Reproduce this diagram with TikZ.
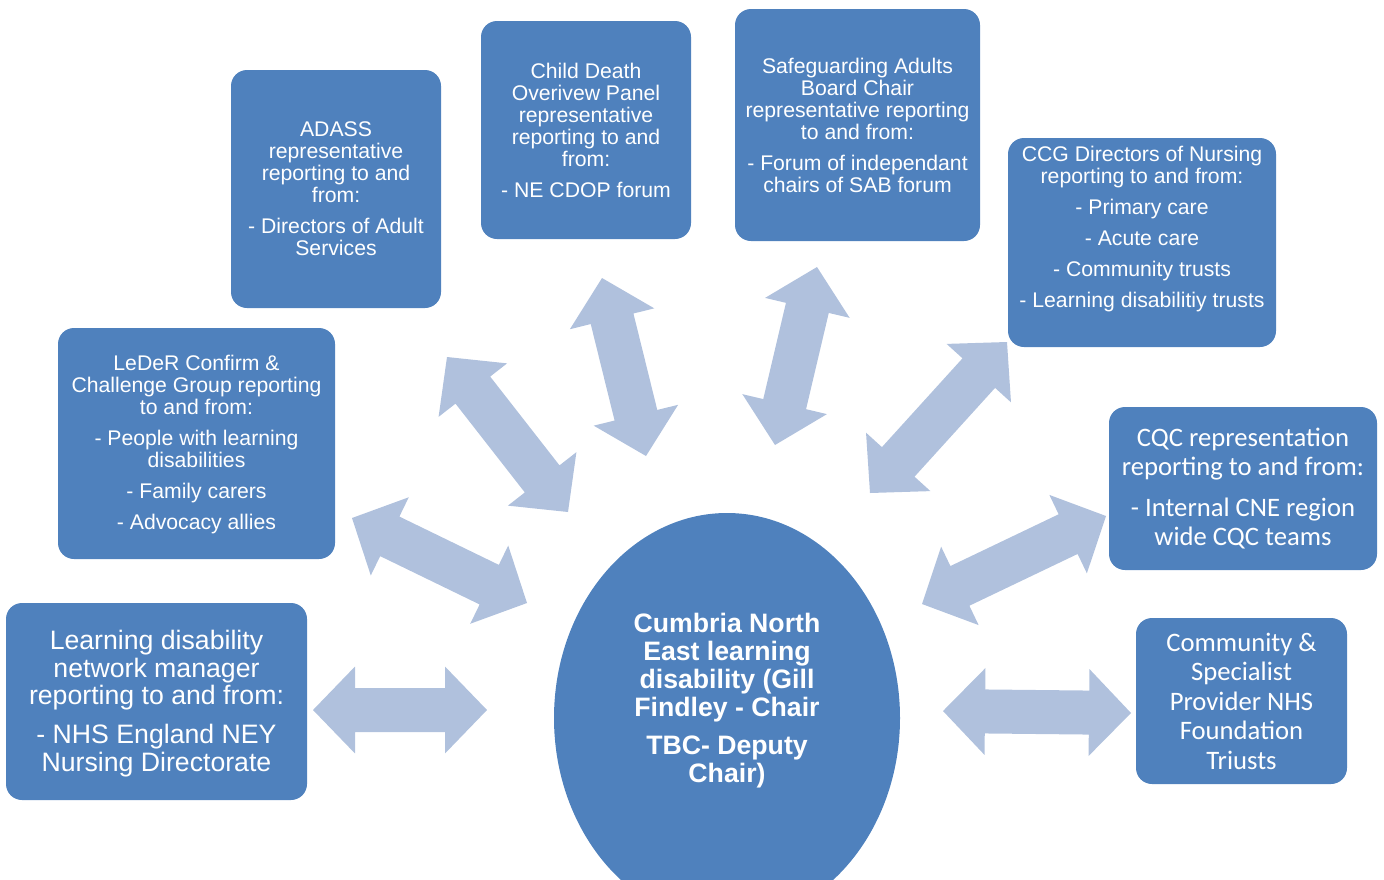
\documentclass[tikz,border=0pt]{standalone}
\usepackage{fontspec}
\setmainfont{Liberation Sans}
\newfontfamily\calibrifont{Carlito}
\usetikzlibrary{calc,shapes.geometric}
\definecolor{boxblue}{RGB}{79,129,189}
\definecolor{arrowblue}{RGB}{176,193,221}

\newcommand\blockarrow[2]{%
  \coordinate (ha) at ($(#1)!31.5pt!(#2)$);
  \coordinate (hb) at ($(#2)!31.5pt!(#1)$);
  \fill[arrowfill] (#1) -- ($(ha)!32.6pt!90:(#2)$) -- ($(ha)!16.5pt!90:(#2)$)
    -- ($(hb)!16.5pt!-90:(#1)$) -- ($(hb)!32.6pt!-90:(#1)$) -- (#2)
    -- ($(hb)!32.6pt!90:(#1)$) -- ($(hb)!16.5pt!90:(#1)$)
    -- ($(ha)!16.5pt!-90:(#2)$) -- ($(ha)!32.6pt!-90:(#2)$) -- cycle;}

\begin{document}
\begin{tikzpicture}[x=0.75pt,y=-0.75pt,
  box/.style={fill=boxblue, rounded corners=12pt, inner sep=0pt},
  txt/.style={text=white, align=center, inner sep=0pt},
  small/.style={txt, font=\fontsize{15.9}{16.5}\selectfont},
  big/.style={txt, font=\fontsize{20}{20.6}\selectfont},
  cal/.style={txt, font=\calibrifont\fontsize{20}{22.1}\selectfont},
  hubfont/.style={txt, font=\bfseries\fontsize{20}{21}\selectfont},
  arrowfill/.style={fill=arrowblue}]

\useasboundingbox (0,0) rectangle (1384,879);
\clip (0,0) rectangle (1384,879);

% arrow end points
\coordinate (a1s) at (313,710);  \coordinate (a1e) at (487,710);
\coordinate (a2s) at (352,518);  \coordinate (a2e) at (527,603);
\coordinate (a3s) at (447,357);  \coordinate (a3e) at (568,512);
\coordinate (a4s) at (602,278);  \coordinate (a4e) at (646,456);
\coordinate (a5s) at (817,267);  \coordinate (a5e) at (775,445);
\coordinate (a6s) at (1007,342); \coordinate (a6e) at (870,493);
\coordinate (a7s) at (1106,516); \coordinate (a7e) at (922,604);
\coordinate (a8s) at (943,711);  \coordinate (a8e) at (1131,713);

\blockarrow{a1s}{a1e}
\blockarrow{a2s}{a2e}
\blockarrow{a3s}{a3e}
\blockarrow{a4s}{a4e}
\blockarrow{a5s}{a5e}
\blockarrow{a6s}{a6e}
\blockarrow{a7s}{a7e}
\blockarrow{a8s}{a8e}

% hub
\node[ellipse, fill=boxblue, inner sep=0pt, minimum width=259.5pt, minimum height=307.5pt] (hub) at (727,718) {};
\node[hubfont] (hubtext) at (727,701) {Cumbria North\\East learning\\disability (Gill\\Findley - Chair\\[7.5pt]TBC- Deputy\\Chair)};

% boxes
\node[box, minimum width=225.75pt, minimum height=147.75pt] (ldnm) at (156.5,701.5) {};
\node[big] (ldnmtext) at (156.5,703.5) {Learning disability\\network manager\\reporting to and from:\\[8.6pt]- NHS England NEY\\Nursing Directorate};

\node[box, minimum width=207.75pt, minimum height=173.25pt] (leder) at (196.5,443.5) {};
\node[small] (ledertext) at (196.5,445) {LeDeR Confirm \&\\Challenge Group reporting\\to and from:\\[6.75pt]- People with learning\\disabilities\\[6.75pt]- Family carers\\[6.75pt]- Advocacy allies};

\node[box, minimum width=157.5pt, minimum height=178.5pt] (adass) at (336,189) {};
\node[small] (adasstext) at (adass.center) {ADASS\\representative\\reporting to and\\from:\\[6.75pt]- Directors of Adult\\Services};

\node[box, minimum width=157.5pt, minimum height=163.5pt] (cdop) at (586,130) {};
\node[small] (cdoptext) at (cdop.center) {Child Death\\Overivew Panel\\representative\\reporting to and\\from:\\[6.75pt]- NE CDOP forum};

\node[box, minimum width=183.75pt, minimum height=174pt] (sab) at (857.5,125) {};
\node[small] (sabtext) at (sab.center) {Safeguarding Adults\\Board Chair\\representative reporting\\to and from:\\[6.75pt]- Forum of independant\\chairs of SAB forum};

\node[box, minimum width=201pt, minimum height=156.75pt] (ccg) at (1142,242.5) {};
\node[small] (ccgtext) at (1142,229.5) {CCG Directors of Nursing\\reporting to and from:\\[6.75pt]- Primary care\\[6.75pt]- Acute care\\[6.75pt]- Community trusts\\[6.75pt]- Learning disabilitiy trusts};

\node[box, minimum width=201pt, minimum height=122.25pt] (cqc) at (1243,488.5) {};
\node[cal] (cqctext) at (cqc.center) {CQC representation\\reporting to and from:\\[8.6pt]- Internal CNE region\\wide CQC teams};

\node[box, minimum width=158.25pt, minimum height=124.5pt] (csp) at (1241.5,701) {};
\node[cal] (csptext) at (csp.center) {Community \&\\Specialist\\Provider NHS\\Foundation\\Triusts};

\end{tikzpicture}
\end{document}
